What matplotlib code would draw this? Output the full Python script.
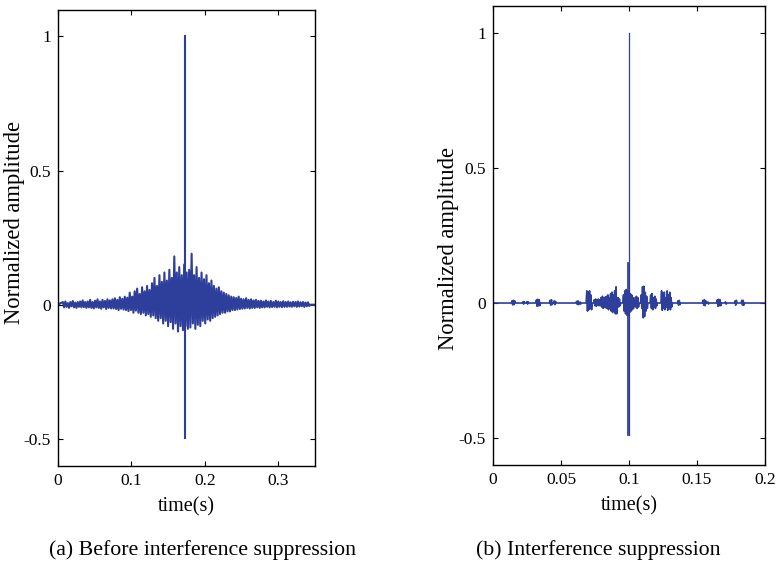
#!/usr/bin/env python3
from __future__ import annotations

import matplotlib

matplotlib.use("Agg")

import numpy as np
import matplotlib.pyplot as plt


A_START, A_END, A_XMAX = 0.007, 0.342, 0.35
noise_a = [
    0.010, -0.010, 0.012, -0.008, 0.006, -0.012, 0.010, -0.006, 0.014, -0.010,
    0.008, -0.012, 0.010, -0.008, 0.012, -0.010, 0.016, -0.009, 0.010, -0.012,
    0.012, -0.010, 0.018, -0.012, 0.010, -0.014, 0.015, -0.010, 0.020, -0.012,
    0.012, -0.015, 0.018, -0.010, 0.014, -0.016, 0.020, -0.012, 0.016, -0.014,
    0.020, -0.014, 0.024, -0.016, 0.018, -0.020, 0.028, -0.015, 0.022, -0.018,
    0.030, -0.020, 0.026, -0.024, 0.045, -0.020, 0.030, -0.030, 0.050, -0.022,
    0.060, -0.030, 0.040, -0.035, 0.065, -0.030, 0.050, -0.040, 0.070, -0.035,
    0.055, -0.045, 0.080, -0.040, 0.100, -0.050, 0.070, -0.060, 0.110, -0.050,
    0.085, -0.070, 0.120, -0.060, 0.090, -0.080, 0.130, -0.065, 0.100, -0.090,
    0.180, -0.070, 0.120, -0.100, 0.140, -0.080, 0.110, -0.095, 0.150, -0.080,
    0.120, -0.090, 0.130, -0.085, 0.190, -0.070, 0.110, -0.090, 0.140, -0.075,
    0.100, -0.080, 0.120, -0.060, 0.095, -0.070, 0.110, -0.055, 0.080, -0.060,
    0.090, -0.050, 0.070, -0.045, 0.060, -0.040, 0.065, -0.035, 0.050, -0.030,
    0.045, -0.030, 0.040, -0.025, 0.035, -0.025, 0.030, -0.020, 0.028, -0.020,
    0.025, -0.018, 0.030, -0.016, 0.022, -0.015, 0.020, -0.014, 0.024, -0.012,
    0.018, -0.014, 0.020, -0.012, 0.016, -0.012, 0.018, -0.010, 0.014, -0.012,
    0.015, -0.010, 0.012, -0.010, 0.016, -0.008, 0.012, -0.010, 0.014, -0.009,
    0.010, -0.008, 0.015, -0.010, 0.012, -0.008, 0.010, -0.009, 0.013, -0.008,
    0.010, -0.008, 0.012, -0.007, 0.009, -0.008, 0.011, -0.006, 0.010, -0.008,
    0.012, -0.007, 0.009, -0.006, 0.010, -0.008, 0.008, -0.006, 0.009, -0.005,
]
spike_a_t = 0.1735
spike_a_top, spike_a_bottom = 1.0, -0.495

# (b) after suppression: short bursts (start time, samples every 0.5 ms)
B_XMAX = 0.2
B_STEP = 0.0005
burst_t0 = [
    0.0140, 0.0220, 0.0250, 0.0320, 0.0420, 0.0450, 0.0615, 0.0640,
    0.0690, 0.0745, 0.0795, 0.0920, 0.0960, 0.1045, 0.1090, 0.1160,
    0.1240, 0.1360, 0.1545, 0.1580, 0.1650, 0.1710, 0.1780, 0.1830,
]
burst_vals = [
    [0.008, -0.007, 0.010, -0.006, 0.008],
    [0.004, -0.004, 0.005],
    [0.005, -0.004, 0.004],
    [0.012, -0.012, 0.014, -0.010, 0.012, -0.010],
    [0.010, -0.008, 0.012, -0.006],
    [0.008, -0.006, 0.006],
    [0.006, -0.005, 0.008, -0.006],
    [0.004, -0.004],
    [0.045, -0.030, 0.040, -0.025, 0.045, -0.020, 0.030, -0.025],
    [0.012, -0.010, 0.015, -0.012, 0.010, -0.008, 0.015, -0.010, 0.012, -0.010],
    [0.020, -0.015, 0.025, -0.020, 0.018, -0.016, 0.022, -0.018, 0.025, -0.020,
     0.030, -0.025, 0.020, -0.020, 0.035, -0.030, 0.040, -0.035, 0.030, -0.030,
     0.045, -0.040, 0.060, -0.040],
    [0.020, -0.015, 0.015, -0.010],
    [0.030, -0.030, 0.045, -0.040, 0.050, -0.045, 0.045, -0.045, 0.040, -0.035,
     0.035, -0.030, 0.030, -0.025, 0.020, -0.020],
    [0.020, -0.015, 0.025, -0.020, 0.020, -0.015],
    [0.030, -0.020, 0.060, -0.055, 0.062, -0.050, 0.040, -0.030, 0.025, -0.020],
    [0.030, -0.020, 0.035, -0.025, 0.020, -0.015, 0.025, -0.020, 0.015, -0.010],
    [0.045, -0.027, 0.035, -0.020, 0.040, -0.025, 0.020, -0.015, 0.045, -0.027,
     0.030, -0.020, 0.040, -0.025, 0.020, -0.015],
    [0.008, -0.008, 0.010, -0.006],
    [0.010, -0.008, 0.012, -0.010, 0.008],
    [0.004, -0.004],
    [0.012, -0.012, 0.014, -0.010, 0.012, -0.010],
    [0.004, -0.004],
    [0.008, -0.008, 0.010],
    [0.010, -0.008, 0.010, -0.008],
]
spike_b_t = 0.1
spike_b_top, spike_b_bottom = 1.0, -0.49
side_b_t = 0.0996
side_b_top, side_b_bottom = 0.15, -0.49

YLIM = (-0.6, 1.1)
Y_TICKS = [-0.5, 0, 0.5, 1]
Y_LABELS = ["-0.5", "0", "0.5", "1"]
XA_TICKS = [0, 0.1, 0.2, 0.3]
XA_LABELS = ["0", "0.1", "0.2", "0.3"]
XB_TICKS = [0, 0.05, 0.1, 0.15, 0.2]
XB_LABELS = ["0", "0.05", "0.1", "0.15", "0.2"]

LINE = "#2E3F9B"
FONT = ["Liberation Serif", "DejaVu Serif"]


def style_axes(ax, xticks, xlabels, xmax):
    ax.set_xlim(0, xmax)
    ax.set_ylim(*YLIM)
    ax.set_xticks(xticks)
    ax.set_xticklabels(xlabels)
    ax.set_yticks(Y_TICKS)
    ax.set_yticklabels(Y_LABELS)
    ax.tick_params(direction="in", length=3.5, width=0.8, top=True, right=True,
                   labelsize=12.5, pad=5)
    for sp in ax.spines.values():
        sp.set_linewidth(1.0)
    ax.set_xlabel("time(s)", fontsize=14.5, labelpad=6)


def main() -> None:
    plt.rcParams["font.family"] = FONT
    plt.rcParams["axes.unicode_minus"] = False

    fig = plt.figure(figsize=(7.8, 5.66), dpi=100)
    ax_a = fig.add_axes([0.074, 0.1772, 0.330, 0.806])
    ax_b = fig.add_axes([0.632, 0.1784, 0.3487, 0.811])

    # panel a
    t_a = np.linspace(A_START, A_END, len(noise_a))
    ta = np.concatenate([[0.0], t_a, [A_END + 0.001, A_XMAX]])
    ya = np.concatenate([[0.0], noise_a, [0.0, 0.0]])
    ax_a.plot(ta, ya, color=LINE, lw=1.5)
    ax_a.plot([spike_a_t, spike_a_t], [spike_a_bottom, spike_a_top], color=LINE, lw=1.5)

    # panel b
    tb, yb = [0.0], [0.0]
    for t0, vals in zip(burst_t0, burst_vals):
        ts = t0 + B_STEP * np.arange(len(vals))
        tb += [t0 - B_STEP] + list(ts) + [ts[-1] + B_STEP]
        yb += [0.0] + list(vals) + [0.0]
    tb.append(B_XMAX)
    yb.append(0.0)
    ax_b.plot(tb, yb, color=LINE, lw=1.2)
    ax_b.plot([side_b_t, side_b_t], [side_b_bottom, side_b_top], color=LINE, lw=1.3)
    ax_b.plot([spike_b_t, spike_b_t], [spike_b_bottom, spike_b_top], color=LINE, lw=0.9)

    style_axes(ax_a, XA_TICKS, XA_LABELS, A_XMAX)
    style_axes(ax_b, XB_TICKS, XB_LABELS, B_XMAX)

    fig.text(15 / 780, 1 - 222 / 566, "Normalized amplitude", rotation=90,
             ha="center", va="center", fontsize=16.3)
    fig.text(449 / 780, 1 - 248 / 566, "Normalized amplitude", rotation=90,
             ha="center", va="center", fontsize=16.3)

    fig.text(202 / 780, 1 - 550 / 566, "(a) Before interference suppression",
             ha="center", va="center", fontsize=15.7)
    fig.text(598 / 780, 1 - 550 / 566, "(b) Interference suppression",
             ha="center", va="center", fontsize=15.7)

    fig.savefig("out.png", dpi=100)
    plt.close(fig)


if __name__ == "__main__":
    main()
